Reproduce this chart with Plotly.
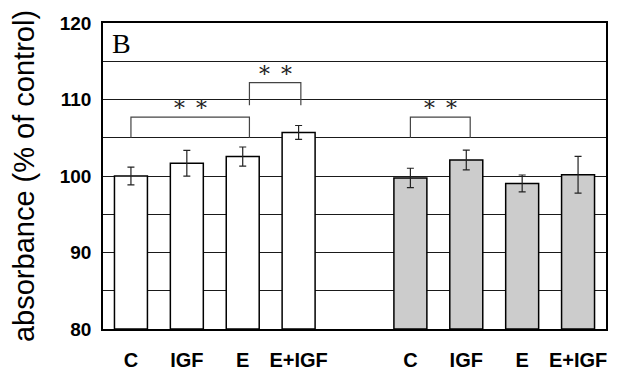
import plotly.graph_objects as go

labels = ["C", "IGF", "E", "E+IGF"]
white_vals = [100.0, 101.66, 102.54, 105.7]
white_err = [1.16, 1.68, 1.25, 0.9]
gray_vals = [99.74, 102.1, 99.03, 100.17]
gray_err = [1.27, 1.29, 1.1, 2.4]

# significance brackets: (x_start, x_end, base_y, top_y)
brackets = [
    (0.0, 2.12, 105.0, 107.7),
    (2.12, 3.04, 109.25, 112.2),
    (5.0, 6.07, 105.0, 107.7),
]
star_text = "∗ ∗"

white_x = [i for i in range(len(labels))]
gray_x = [i + len(labels) + 1 for i in range(len(labels))]

fig = go.Figure()
fig.add_trace(go.Bar(
    x=white_x, y=[v - 80 for v in white_vals], base=80,
    width=0.59, marker=dict(color="white", line=dict(color="black", width=1.5)),
    error_y=dict(type="data", array=white_err, color="#222", thickness=1.2, width=3.5),
    showlegend=False,
))
fig.add_trace(go.Bar(
    x=gray_x, y=[v - 80 for v in gray_vals], base=80,
    width=0.59, marker=dict(color="#cccccc", line=dict(color="black", width=1.5)),
    error_y=dict(type="data", array=gray_err, color="#222", thickness=1.2, width=3.5),
    showlegend=False,
))

for x0, x1, yb, yt in brackets:
    fig.add_shape(type="path",
                  path=f"M {x0} {yb} L {x0} {yt} L {x1} {yt} L {x1} {yb}",
                  line=dict(color="#444", width=1.2))
    fig.add_annotation(x=(x0 + x1) / 2, y=yt, text=star_text, showarrow=False,
                       yanchor="bottom", yshift=-1,
                       font=dict(family="DejaVu Serif", size=22, color="#222"))

fig.add_annotation(xref="paper", yref="paper", x=0.014, y=1, text="B",
                   showarrow=False, xanchor="left", yanchor="top", yshift=-3,
                   font=dict(family="Liberation Serif", size=28, color="black"))

yticks = list(range(80, 121, 5))
fig.update_layout(
    width=610, height=364,
    margin=dict(l=95, r=12, t=15, b=43),
    paper_bgcolor="white", plot_bgcolor="white",
    xaxis=dict(range=[-0.5, 8.5], tickvals=white_x + gray_x, automargin=False,
               ticktext=[f"<b>{t}</b>" for t in labels + labels],
               showgrid=False, showline=True, mirror=True, linecolor="black", linewidth=1.5,
               tickfont=dict(family="Liberation Sans", size=20, color="black"),
               ticks="", ticklabelstandoff=12, zeroline=False),
    yaxis=dict(range=[80, 120], tickvals=yticks, automargin=False,
               ticktext=[f"<b>{v}</b>" if v % 10 == 0 else "" for v in yticks],
               showgrid=True, gridcolor="#1a1a1a", gridwidth=1.2,
               showline=True, mirror=True, linecolor="black", linewidth=1.5,
               tickfont=dict(family="Liberation Sans", size=19, color="black"),
               ticks="", ticklabelstandoff=6, zeroline=False,
               title=dict(text="absorbance (% of control)", standoff=18,
                          font=dict(family="Liberation Sans", size=29, color="black"))),
)

fig.write_html("out.html")
